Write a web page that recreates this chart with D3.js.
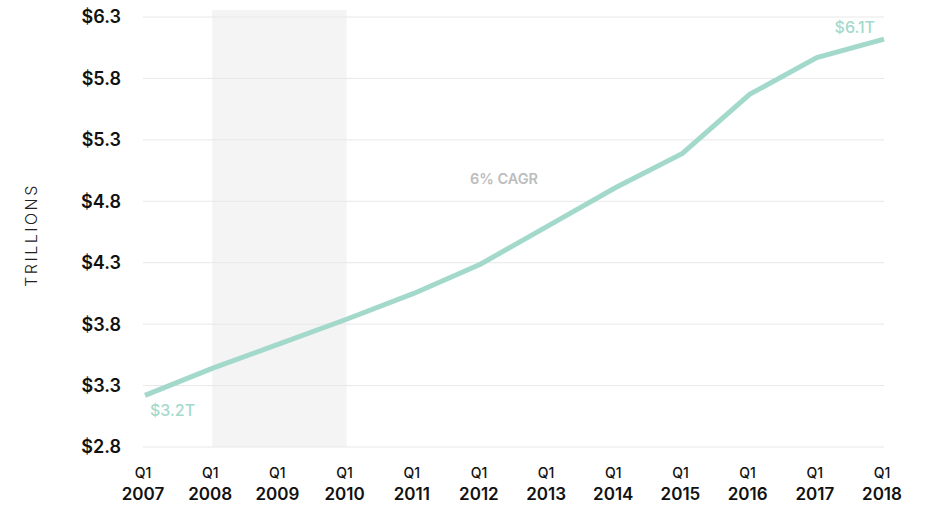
<!DOCTYPE html>
<html>
<head>
<meta charset="utf-8">
<script src="https://cdn.jsdelivr.net/npm/d3@7"></script>
<style>
  body { margin: 0; background: #fff; }
  svg { font-family: Inter, "Noto Sans", sans-serif; }
</style>
</head>
<body>
<svg id="chart" width="926" height="505"></svg>
<script>
const years = [2007, 2008, 2009, 2010, 2011, 2012, 2013, 2014, 2015, 2016, 2017, 2018];
const values = [3.22, 3.44, 3.64, 3.84, 4.05, 4.29, 4.60, 4.91, 5.19, 5.67, 5.97, 6.12];
const yTicks = [2.8, 3.3, 3.8, 4.3, 4.8, 5.3, 5.8, 6.3];
const recession = [2008, 2010];

const svg = d3.select("#chart");
const margin = { top: 17, right: 42, bottom: 58, left: 145 };
const width = +svg.attr("width");
const height = +svg.attr("height");

const x = d3.scaleLinear()
  .domain([2007, 2018])
  .range([margin.left, width - margin.right]);

const y = d3.scaleLinear()
  .domain([2.8, 6.3])
  .range([height - margin.bottom, margin.top]);

const lineColor = "#a3d9cb";

// Shaded recession band
svg.append("rect")
  .attr("x", x(recession[0]))
  .attr("y", 10)
  .attr("width", x(recession[1]) - x(recession[0]))
  .attr("height", y(2.8) - 10)
  .attr("fill", "#f4f4f4");

// Gridlines
svg.append("g")
  .selectAll("line")
  .data(yTicks)
  .join("line")
  .attr("x1", x(2007) - 2)
  .attr("x2", x(2018))
  .attr("y1", d => y(d))
  .attr("y2", d => y(d))
  .attr("stroke", "#e8e8e8")
  .attr("stroke-width", 1);

// Y axis labels
svg.append("g")
  .selectAll("text")
  .data(yTicks)
  .join("text")
  .attr("x", 121)
  .attr("y", d => y(d))
  .attr("dy", "0.36em")
  .attr("text-anchor", "end")
  .style("font-size", "18px")
  .style("font-weight", "600")
  .attr("fill", "#111")
  .text(d => "$" + d.toFixed(1));

// Y axis title
svg.append("text")
  .attr("transform", `translate(37, 235) rotate(-90)`)
  .attr("text-anchor", "middle")
  .style("font-size", "16px")
  .style("font-weight", "300")
  .style("letter-spacing", "2.5px")
  .attr("fill", "#222")
  .text("TRILLIONS");

// X axis labels
const xl = svg.append("g")
  .selectAll("g")
  .data(years)
  .join("g")
  .attr("transform", d => `translate(${x(d) - 2},0)`);

xl.append("text")
  .attr("y", 478)
  .attr("text-anchor", "middle")
  .style("font-size", "14px")
  .style("font-weight", "500")
  .attr("fill", "#111")
  .text("Q1");

xl.append("text")
  .attr("y", 500)
  .attr("text-anchor", "middle")
  .style("font-size", "17px")
  .style("font-weight", "600")
  .attr("fill", "#111")
  .text(d => d);

// Line
const line = d3.line()
  .x((d, i) => x(years[i]))
  .y(d => y(d));

svg.append("path")
  .datum(values)
  .attr("d", line)
  .attr("fill", "none")
  .attr("stroke", lineColor)
  .attr("stroke-width", 5);

// Annotations
svg.append("text")
  .attr("x", x(2007) + 5)
  .attr("y", y(values[0]) + 21)
  .style("font-size", "16px")
  .style("font-weight", "500")
  .attr("fill", lineColor)
  .text("$3.2T");

svg.append("text")
  .attr("x", x(2018) - 9)
  .attr("y", y(values[values.length - 1]) - 6)
  .attr("text-anchor", "end")
  .style("font-size", "16px")
  .style("font-weight", "500")
  .attr("fill", lineColor)
  .text("$6.1T");

svg.append("text")
  .attr("x", 504)
  .attr("y", 184)
  .attr("text-anchor", "middle")
  .style("font-size", "14.5px")
  .style("font-weight", "600")
  .attr("fill", "#bdbdbd")
  .text("6% CAGR");
</script>
</body>
</html>
